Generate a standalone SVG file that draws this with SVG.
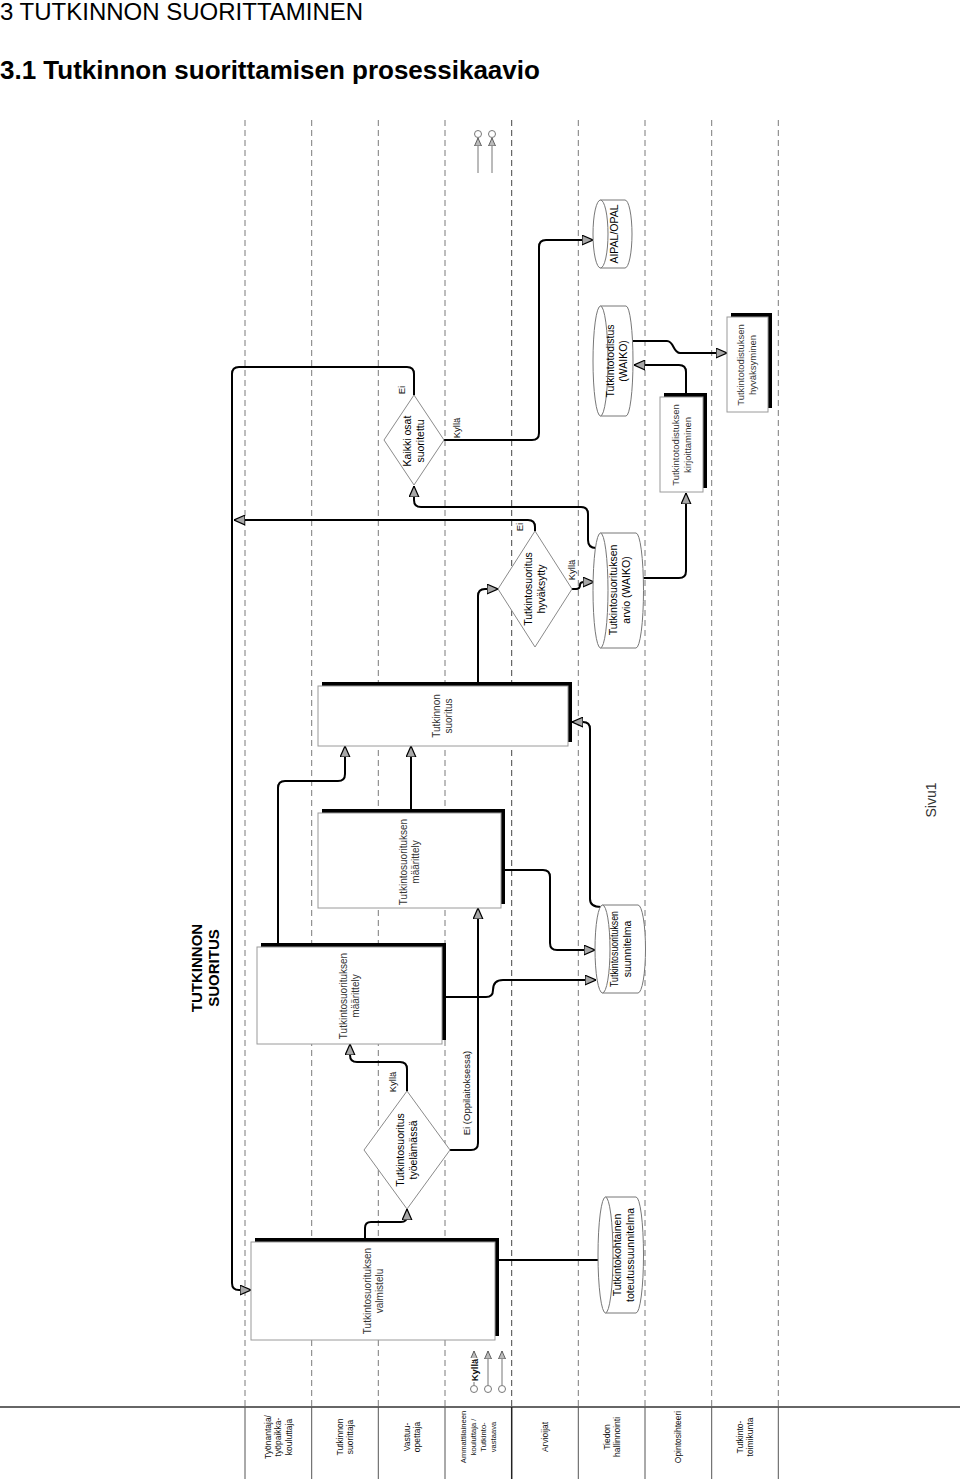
<svg xmlns="http://www.w3.org/2000/svg" width="960" height="1479" viewBox="0 0 960 1479">
<style>
.lane{stroke:#7a7a7a;stroke-width:1;stroke-dasharray:6 4;fill:none}
.hsep{stroke:#555;stroke-width:1;fill:none}
.con{stroke:#000;stroke-width:2;fill:none;marker-end:url(#ah)}
.conn{stroke:#000;stroke-width:2;fill:none}
.shadow{fill:#000}
.box{fill:#fff;stroke:#9a9a9a;stroke-width:1}
.cyl{fill:#fff;stroke:#777;stroke-width:1}
.dia{fill:#fff;stroke:#8a8a8a;stroke-width:1}
.t{font-family:"Liberation Sans",Arial,sans-serif;font-size:10.5px;fill:#000;text-anchor:middle}
.tb{font-family:"Liberation Sans",Arial,sans-serif;font-size:10px;fill:#333;text-anchor:middle}
.lbl{font-family:"Liberation Sans",Arial,sans-serif;font-size:9.5px;fill:#111;text-anchor:middle}
.hdr{font-family:"Liberation Sans",Arial,sans-serif;font-size:8.5px;fill:#111;text-anchor:middle}
.mk{stroke:#777;stroke-width:1;fill:none}
</style>
<defs>
<marker id="ah" viewBox="0 0 10 10" refX="10" refY="5" markerWidth="11" markerHeight="11" markerUnits="userSpaceOnUse" orient="auto">
<path d="M0,0.6 L10,5 L0,9.4 Z" fill="#a8a8a8" stroke="#000" stroke-width="1.1"/>
</marker>
<marker id="sm" viewBox="0 0 8 8" refX="8" refY="4" markerWidth="8" markerHeight="8" markerUnits="userSpaceOnUse" orient="auto">
<path d="M0,0.5 L8,4 L0,7.5 Z" fill="#bbb" stroke="#555" stroke-width="0.9"/>
</marker>
</defs>
<rect x="0" y="0" width="960" height="1479" fill="#fff"/>

<text x="0" y="20" font-family="Liberation Sans, Arial, sans-serif" font-size="24" fill="#000">3 TUTKINNON SUORITTAMINEN</text>
<text x="0" y="79" font-family="Liberation Sans, Arial, sans-serif" font-size="26" font-weight="bold" fill="#000">3.1 Tutkinnon suorittamisen prosessikaavio</text>

<g id="lanes">
<line class="lane" x1="245" y1="120" x2="245" y2="1407"/>
<line class="lane" x1="311.7" y1="120" x2="311.7" y2="1407"/>
<line class="lane" x1="378.3" y1="120" x2="378.3" y2="1407"/>
<line class="lane" x1="445" y1="120" x2="445" y2="1407"/>
<line class="lane" x1="511.7" y1="120" x2="511.7" y2="1407" style="stroke:#444"/>
<line class="lane" x1="578.3" y1="120" x2="578.3" y2="1407"/>
<line class="lane" x1="645" y1="120" x2="645" y2="1407"/>
<line class="lane" x1="711.7" y1="120" x2="711.7" y2="1407"/>
<line class="lane" x1="778.3" y1="120" x2="778.3" y2="1407"/>
<line x1="0" y1="1407" x2="960" y2="1407" stroke="#333" stroke-width="1.5"/>
<line class="hsep" x1="245" y1="1407" x2="245" y2="1479"/>
<line class="hsep" x1="311.7" y1="1407" x2="311.7" y2="1479"/>
<line class="hsep" x1="378.3" y1="1407" x2="378.3" y2="1479"/>
<line class="hsep" x1="445" y1="1407" x2="445" y2="1479"/>
<line class="hsep" x1="511.7" y1="1407" x2="511.7" y2="1479" style="stroke:#222;stroke-width:1.5"/>
<line class="hsep" x1="578.3" y1="1407" x2="578.3" y2="1479"/>
<line class="hsep" x1="645" y1="1407" x2="645" y2="1479"/>
<line class="hsep" x1="711.7" y1="1407" x2="711.7" y2="1479"/>
<line class="hsep" x1="778.3" y1="1407" x2="778.3" y2="1479"/>
</g>

<g id="lane-labels">
<g transform="translate(278.3 1437) rotate(-90)"><text class="hdr"><tspan x="0" y="-7.3">Työnantaja/</tspan><tspan x="0" y="3">työpaikka-</tspan><tspan x="0" y="13.3">kouluttaja</tspan></text></g>
<g transform="translate(345 1437) rotate(-90)"><text class="hdr"><tspan x="0" y="-2.2">Tutkinnon</tspan><tspan x="0" y="8.1">suorittaja</tspan></text></g>
<g transform="translate(411.7 1437) rotate(-90)"><text class="hdr"><tspan x="0" y="-2.2">Vastuu-</tspan><tspan x="0" y="8.1">opettaja</tspan></text></g>
<g transform="translate(478.3 1437) rotate(-90)"><text class="hdr" style="font-size:7.6px"><tspan x="0" y="-12">Ammattilaineen</tspan><tspan x="0" y="-2.2">kouluttaja /</tspan><tspan x="0" y="7.6">Tutkinto-</tspan><tspan x="0" y="17.4">vastaava</tspan></text></g>
<g transform="translate(545 1437) rotate(-90)"><text class="hdr"><tspan x="0" y="3">Arvioijat</tspan></text></g>
<g transform="translate(611.7 1437) rotate(-90)"><text class="hdr"><tspan x="0" y="-2.2">Tiedon</tspan><tspan x="0" y="8.1">hallinnointi</tspan></text></g>
<g transform="translate(678.3 1437) rotate(-90)"><text class="hdr"><tspan x="0" y="3">Opintosihteeri</tspan></text></g>
<g transform="translate(745 1437) rotate(-90)"><text class="hdr"><tspan x="0" y="-2.2">Tutkinto-</tspan><tspan x="0" y="8.1">toimikunta</tspan></text></g>
</g>

<g id="title-block" transform="translate(205.5 968) rotate(-90)">
<text font-family="Liberation Sans, Arial, sans-serif" font-size="15" font-weight="bold" text-anchor="middle" fill="#000"><tspan x="0" y="-3.2">TUTKINNON</tspan><tspan x="0" y="13.8">SUORITUS</tspan></text>
</g>
<g transform="translate(931 800) rotate(-90)"><text font-family="Liberation Sans, Arial, sans-serif" font-size="14" text-anchor="middle" fill="#333" y="5">Sivu1</text></g>

<g id="connectors">
<path class="con" d="M414 395 V374 Q414 367 407 367 H239 Q232 367 232 374 V1283 Q232 1290 239 1290 H251"/>
<path class="con" d="M535 531 V527 Q535 520 528 520 H234"/>
<path class="con" d="M444 440 H532 Q539 440 539 433 V247 Q539 240 546 240 H593"/>
<path class="con" d="M596 548 Q588 548 588 540 V514 Q588 507 581 507 H421 Q414 507 414 500 V486"/>
<path class="con" d="M572 589 H576 Q580 589 580 585 Q580 582 584 582 H594"/>
<path class="con" d="M643 578 H679 Q686 578 686 571 V493"/>
<path class="con" d="M686 393 V372 Q686 365 679 365 H634"/>
<path class="con" d="M633 341 H667 C674 341 673 353 680 353 H727"/>
<path class="con" d="M478 682 V596 Q478 589 485 589 H498"/>
<path class="con" d="M601 907 Q590 907 590 899 V729 Q590 722 583 722 H572"/>
<path class="con" d="M365 1238 V1228 Q365 1222 371 1222 H401 Q407 1222 407 1216 V1209"/>
<path class="con" d="M407 1091 V1069 Q407 1062 400 1062 H357 Q350 1062 350 1055 V1044"/>
<path class="con" d="M450 1150 H471 Q478 1150 478 1143 V908"/>
<path class="con" d="M278 943 V788 Q278 781 285 781 H338 Q345 781 345 774 V746"/>
<path class="con" d="M411 809 V746"/>
<path class="con" d="M505 870 H543 Q550 870 550 877 V943 Q550 950 557 950 H595"/>
<path class="con" d="M446 997 H486 Q493 997 493 990 Q493 980 503 980 H596"/>
<path class="conn" d="M499 1260 H598"/>
<line class="mk" x1="488" y1="1385" x2="488" y2="1351" marker-end="url(#sm)"/>
<line class="mk" x1="502" y1="1385" x2="502" y2="1351" marker-end="url(#sm)"/>
<line class="mk" x1="474" y1="1385" x2="474" y2="1351" marker-end="url(#sm)"/>
<line class="mk" x1="478" y1="173" x2="478" y2="138" marker-end="url(#sm)"/>
<line class="mk" x1="492" y1="173" x2="492" y2="138" marker-end="url(#sm)"/>
</g>

<g id="markers">
<circle cx="474" cy="1389" r="3.5" fill="#fff" stroke="#777"/>
<circle cx="488" cy="1389" r="3.5" fill="#fff" stroke="#777"/>
<circle cx="502" cy="1389" r="3.5" fill="#fff" stroke="#777"/>
<circle cx="478" cy="134" r="3.5" fill="#fff" stroke="#777"/>
<circle cx="492" cy="134" r="3.5" fill="#fff" stroke="#777"/>
<g transform="translate(475 1370) rotate(-90)"><rect x="-12" y="-5" width="24" height="9" fill="#fff"/><text class="lbl" y="3.3" font-weight="bold">Kyllä</text></g>
</g>

<g id="valmistelu">
<rect class="shadow" x="255" y="1238" width="244" height="98"/>
<rect class="box" x="251" y="1242" width="244" height="98"/>
<g transform="translate(374 1291) rotate(-90)"><text class="tb"><tspan x="0" y="-2.7">Tutkintosuorituksen</tspan><tspan x="0" y="9.3">valmistelu</tspan></text></g>
</g>
<g id="maarittely1">
<rect class="shadow" x="261" y="943" width="185" height="97"/>
<rect class="box" x="257" y="947" width="185" height="97"/>
<g transform="translate(350 996) rotate(-90)"><text class="tb"><tspan x="0" y="-2.7">Tutkintosuorituksen</tspan><tspan x="0" y="9.3">määrittely</tspan></text></g>
</g>
<g id="maarittely2">
<rect class="shadow" x="322" y="809" width="183" height="95"/>
<rect class="box" x="318" y="813" width="183" height="95"/>
<g transform="translate(410 862) rotate(-90)"><text class="tb"><tspan x="0" y="-2.7">Tutkintosuorituksen</tspan><tspan x="0" y="9.3">määrittely</tspan></text></g>
</g>
<g id="suoritus">
<rect class="shadow" x="322" y="682" width="250" height="60"/>
<rect class="box" x="318" y="686" width="250" height="60"/>
<g transform="translate(443 716) rotate(-90)"><text class="tb"><tspan x="0" y="-2.7">Tutkinnon</tspan><tspan x="0" y="9.3">suoritus</tspan></text></g>
</g>
<g id="kirjoittaminen">
<rect class="shadow" x="664" y="393" width="43" height="95"/>
<rect class="box" x="660" y="397" width="43" height="95"/>
<g transform="translate(682 445) rotate(-90)"><text class="tb" style="font-size:9.5px"><tspan x="0" y="-2.7">Tutkintotodistuksen</tspan><tspan x="0" y="9.3">kirjoittaminen</tspan></text></g>
</g>
<g id="hyvaksyminen">
<rect class="shadow" x="731" y="313" width="41" height="95"/>
<rect class="box" x="727" y="317" width="41" height="95"/>
<g transform="translate(747 365) rotate(-90)"><text class="tb" style="font-size:9.5px"><tspan x="0" y="-2.7">Tutkintotodistuksen</tspan><tspan x="0" y="9.3">hyväksyminen</tspan></text></g>
</g>

<g id="toteutussuunnitelma">
<path class="cyl" d="M605.5 1197 H636 A7.5 58 0 0 1 636 1313 H605.5 A7.5 58 0 0 1 605.5 1197 Z M605.5 1197 A7.5 58 0 0 1 605.5 1313"/>
<g transform="translate(624 1255) rotate(-90)"><text class="t"><tspan x="0" y="-2.7">Tutkintokohtainen</tspan><tspan x="0" y="9.5">toteutussuunnitelma</tspan></text></g>
</g>
<g id="suunnitelma">
<path class="cyl" d="M602.5 905 H638 A7.5 44 0 0 1 638 993 H602.5 A7.5 44 0 0 1 602.5 905 Z M602.5 905 A7.5 44 0 0 1 602.5 993"/>
<g transform="translate(621 949) rotate(-90)"><text class="t"><tspan x="0" y="-2.7" textLength="76" lengthAdjust="spacingAndGlyphs">Tutkintosuorituksen</tspan><tspan x="0" y="9.5">suunnitelma</tspan></text></g>
</g>
<g id="arvio">
<path class="cyl" d="M600.5 533 H636 A7.5 57.5 0 0 1 636 648 H600.5 A7.5 57.5 0 0 1 600.5 533 Z M600.5 533 A7.5 57.5 0 0 1 600.5 648"/>
<g transform="translate(620 590) rotate(-90)"><text class="t"><tspan x="0" y="-2.7">Tutkintosuorituksen</tspan><tspan x="0" y="9.5">arvio (WAIKO)</tspan></text></g>
</g>
<g id="tutkintotodistus">
<path class="cyl" d="M600.5 306 H626 A7 55 0 0 1 626 416 H600.5 A7.5 55 0 0 1 600.5 306 Z M600.5 306 A7.5 55 0 0 1 600.5 416"/>
<g transform="translate(617 361) rotate(-90)"><text class="t"><tspan x="0" y="-2.7">Tutkintotodistus</tspan><tspan x="0" y="9.5">(WAIKO)</tspan></text></g>
</g>
<g id="aipal">
<path class="cyl" d="M600.5 200 H625 A7 34 0 0 1 625 268 H600.5 A7.5 34 0 0 1 600.5 200 Z M600.5 200 A7.5 34 0 0 1 600.5 268"/>
<g transform="translate(614 234) rotate(-90)"><text class="t" y="3.6">AIPAL/OPAL</text></g>
</g>

<g id="tyoelamassa">
<path class="dia" d="M407 1091 L450 1150 L407 1209 L364 1150 Z"/>
<g transform="translate(407 1150) rotate(-90)"><text class="t"><tspan x="0" y="-2.7">Tutkintosuoritus</tspan><tspan x="0" y="9.5">työelämässä</tspan></text></g>
</g>
<g id="hyvaksytty">
<path class="dia" d="M535 531 L572 589 L535 647 L498 589 Z"/>
<g transform="translate(535 589) rotate(-90)"><text class="t"><tspan x="0" y="-2.7">Tutkintosuoritus</tspan><tspan x="0" y="9.5">hyväksytty</tspan></text></g>
</g>
<g id="kaikki-osat">
<path class="dia" d="M414 395 L444 440 L414 485 L384 440 Z"/>
<g transform="translate(414 441) rotate(-90)"><text class="t"><tspan x="0" y="-2.7">Kaikki osat</tspan><tspan x="0" y="9.5">suoritettu</tspan></text></g>
</g>

<g id="labels">
<g transform="translate(402 390) rotate(-90)"><text class="lbl" y="3.3">Ei</text></g>
<g transform="translate(457 428) rotate(-90)"><text class="lbl" y="3.3">Kyllä</text></g>
<g transform="translate(520 527) rotate(-90)"><text class="lbl" y="3.3">Ei</text></g>
<g transform="translate(572 570) rotate(-90)"><text class="lbl" y="3.3">Kyllä</text></g>
<g transform="translate(393 1082) rotate(-90)"><text class="lbl" y="3.3">Kyllä</text></g>
<g transform="translate(467 1093) rotate(-90)"><text class="lbl" y="3.3">Ei (Oppilaitoksessa)</text></g>
</g>
</svg>
